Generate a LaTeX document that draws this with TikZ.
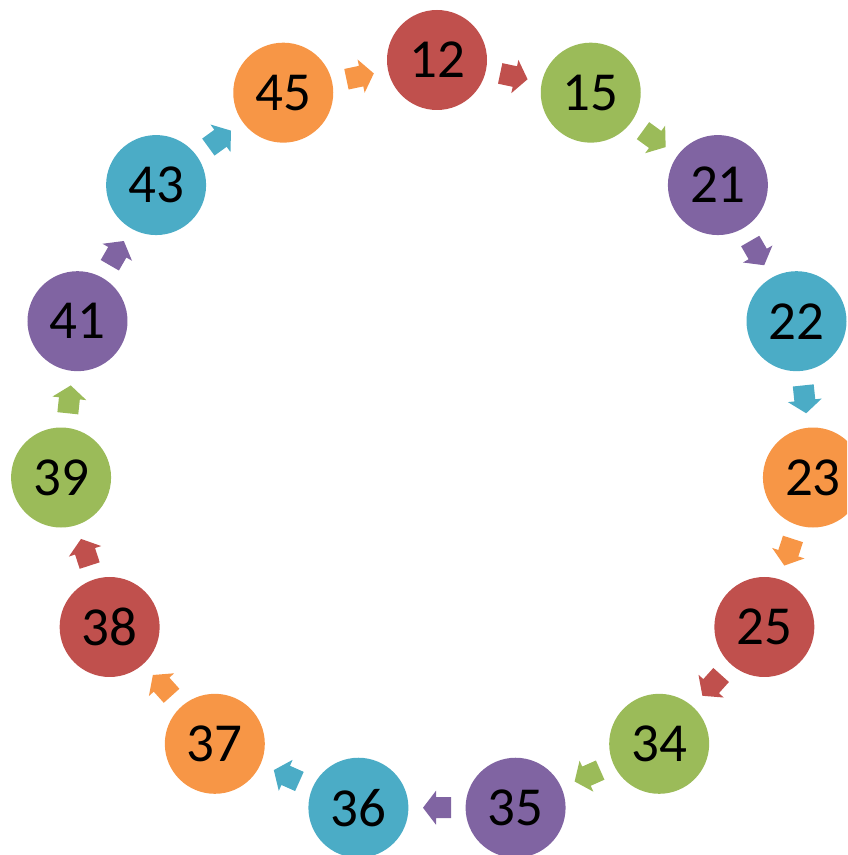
\documentclass[tikz,border=0pt]{standalone}
\usepackage{fontspec}
\setmainfont{Carlito}
\usetikzlibrary{calc}
\definecolor{cred}{HTML}{C0504D}
\definecolor{cgreen}{HTML}{9BBB59}
\definecolor{cpurple}{HTML}{8064A2}
\definecolor{cblue}{HTML}{4BACC6}
\definecolor{corange}{HTML}{F79646}
\tikzset{
  bubble/.style={circle, minimum size=100pt, inner sep=0pt, text=black,
    font=\fontsize{55}{55}\selectfont},
}
\newcommand\blockarrow[3]{%
  \fill[#3, shift={(#1)}, rotate=#2]
    (-14,-10.5) -- (1,-10.5) -- (1,-17) -- (14,0) -- (1,17) -- (1,10.5) -- (-14,10.5) -- cycle;}
\begin{document}
\begin{tikzpicture}[x=1pt, y=1pt]
\useasboundingbox (0,0) rectangle (847,855);
\clip (0,0) rectangle (847,855);
\begin{scope}[shift={(437,417)}]
\foreach \i/\t/\c in {0/12/cred, 1/15/cgreen, 2/21/cpurple, 3/22/cblue, 4/23/corange,
  5/25/cred, 6/34/cgreen, 7/35/cpurple, 8/36/cblue, 9/37/corange,
  10/38/cred, 11/39/cgreen, 12/41/cpurple, 13/43/cblue, 14/45/corange}{
  \node[bubble, fill=\c] (n\i) at ({90-24*\i}:378) {\t};
}
\foreach \i/\j/\c in {0/1/cred, 1/2/cgreen, 2/3/cpurple, 3/4/cblue, 4/5/corange,
  5/6/cred, 6/7/cgreen, 7/8/cpurple, 8/9/cblue, 9/10/corange,
  10/11/cred, 11/12/cgreen, 12/13/cpurple, 13/14/cblue, 14/0/corange}{
  \coordinate (m\i) at ($(n\i)!0.5!(n\j)$);
  \pgfmathsetmacro\ang{90-24*\i-12-90}
  \blockarrow{m\i}{\ang}{\c}
}
\end{scope}
\end{tikzpicture}
\end{document}
